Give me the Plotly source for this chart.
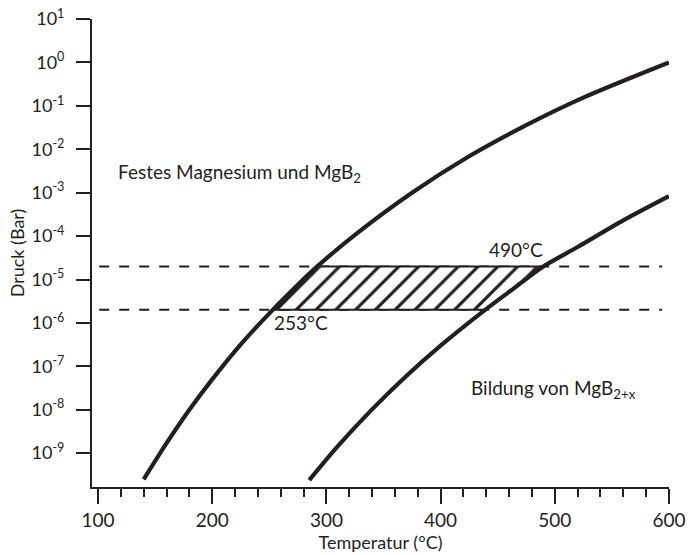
import plotly.graph_objects as go

# Phase boundary curves: temperature (°C) and pressure (bar)
mg_temp = [140, 160, 180, 200, 225, 253, 275, 292, 325, 375, 425, 475, 525, 600]
mg_pres = [2.5e-10, 1.7e-9, 1.0e-8, 5.0e-8, 3.2e-7, 2.0e-6, 7.6e-6, 2.0e-5,
           1.07e-4, 1.0e-3, 6.9e-3, 3.6e-2, 0.155, 1.0]

mgb_temp = [285, 310, 340, 370, 400, 439, 465, 490, 520, 560, 600]
mgb_pres = [2.4e-10, 1.45e-9, 1.02e-8, 6.0e-8, 3.0e-7, 2.0e-6, 6.5e-6, 2.0e-5,
            5.6e-5, 2.3e-4, 8.3e-4]

# Process window: pressure limits and corner temperatures
p_low, p_high = 2.0e-6, 2.0e-5
window_temp = [253, 292, 490, 439, 253]
window_pres = [p_low, p_high, p_high, p_low, p_low]
dash_temp = [101, 594]

# Axis ticks
y_exponents = [1, 0, -1, -2, -3, -4, -5, -6, -7, -8, -9]
x_ticks = [100, 200, 300, 400, 500, 600]

INK = "#231f20"
FONT = "Lato, 'Open Sans', sans-serif"

fig = go.Figure()

# Dashed pressure limits
for p in (p_high, p_low):
    fig.add_trace(go.Scatter(
        x=dash_temp, y=[p, p], mode="lines",
        line=dict(color=INK, width=2, dash="10px,10px"),
        hoverinfo="skip", showlegend=False))

# Hatched process window
fig.add_trace(go.Scatter(
    x=window_temp, y=window_pres, mode="lines", fill="toself",
    fillcolor="white",
    fillpattern=dict(shape="/", size=14, solidity=0.22,
                     fgcolor=INK, bgcolor="white", fillmode="replace"),
    line=dict(color=INK, width=2),
    hoverinfo="skip", showlegend=False))

# Boundary curves
for t, p in ((mg_temp, mg_pres), (mgb_temp, mgb_pres)):
    fig.add_trace(go.Scatter(
        x=t, y=p, mode="lines",
        line=dict(color=INK, width=4.2, shape="spline", smoothing=0.8),
        hoverinfo="skip", showlegend=False))

fig.add_annotation(x=116, y=-2.55, xref="x", yref="y",
                   text="Festes Magnesium und MgB<sub>2</sub>",
                   xanchor="left", yanchor="middle", showarrow=False,
                   font=dict(size=19, color=INK, family=FONT))
fig.add_annotation(x=425, y=-7.53, xref="x", yref="y",
                   text="Bildung von MgB<sub>2+x</sub>",
                   xanchor="left", yanchor="middle", showarrow=False,
                   font=dict(size=19, color=INK, family=FONT))
fig.add_annotation(x=491.5, y=-4.30, xref="x", yref="y", text="490°C",
                   xanchor="right", yanchor="middle", showarrow=False,
                   font=dict(size=19, color=INK, family=FONT))
fig.add_annotation(x=252.5, y=-6.0, xref="x", yref="y", text="253°C",
                   xanchor="left", yanchor="middle", showarrow=False,
                   font=dict(size=19, color=INK, family=FONT))

fig.update_layout(
    width=692, height=555,
    margin=dict(l=92, r=23, t=19, b=68),
    paper_bgcolor="white", plot_bgcolor="white",
    font=dict(family=FONT, color=INK),
    xaxis=dict(
        range=[94.7, 600.05], showgrid=False, zeroline=False,
        automargin=False,
        showline=True, linewidth=2, linecolor=INK,
        tickmode="array", tickvals=x_ticks,
        ticks="outside", ticklen=15, tickwidth=2, tickcolor=INK,
        minor=dict(tick0=100, dtick=20, ticks="outside", ticklen=8,
                   tickwidth=2, tickcolor=INK, showgrid=False),
        tickfont=dict(size=19, color=INK, family=FONT),
        title=dict(text="Temperatur (°C)", standoff=2,
                   font=dict(size=18, color=INK, family=FONT)),
    ),
    yaxis=dict(
        type="log", range=[-9.78, 1.001], showgrid=False, zeroline=False,
        automargin=False,
        showline=True, linewidth=2, linecolor=INK,
        tickmode="array",
        tickvals=[10.0 ** e for e in y_exponents],
        ticktext=[f"10<sup>{e}</sup>" for e in y_exponents],
        ticks="outside", ticklen=14, tickwidth=2, tickcolor=INK,
        ticklabelstandoff=8,
        tickfont=dict(size=18, color=INK, family=FONT),
        title=dict(text="Druck (Bar)", standoff=2,
                   font=dict(size=18, color=INK, family=FONT)),
    ),
)

fig.write_html("out.html")
